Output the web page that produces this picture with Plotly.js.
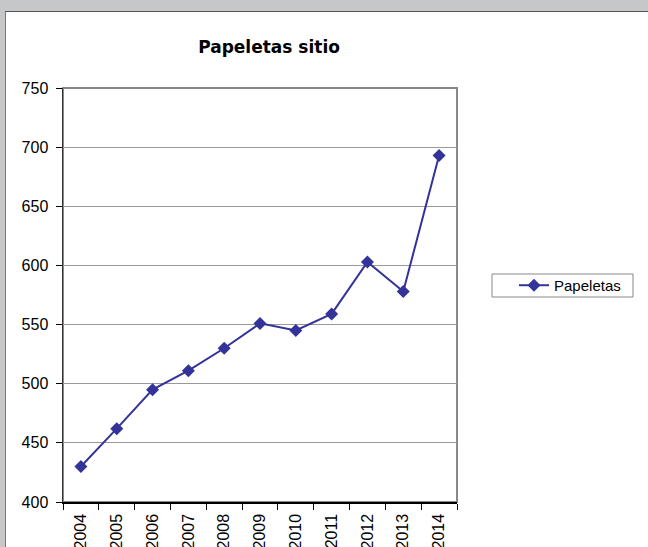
<!DOCTYPE html>
<html>
<head>
<meta charset="utf-8">
<script src="https://cdn.plot.ly/plotly-3.0.1.min.js"></script>
<style>
  html, body { margin: 0; padding: 0; background: #c6c7c9; width: 648px; height: 547px; overflow: hidden; }
  #frame { position: absolute; left: 5px; top: 11px; width: 643px; height: 536px; background: #fff;
           border-top: 1px solid #555; border-left: 1px solid #777; }
  #chart { width: 642px; height: 535px; }
</style>
</head>
<body>
<div id="frame"><div id="chart"></div></div>
<script>
const years = ['2004','2005','2006','2007','2008','2009','2010','2011','2012','2013','2014'];
const papeletas = [430, 462, 495, 511, 530, 551, 545, 559, 603, 578, 693];
const seriesName = 'Papeletas';
const chartTitle = 'Papeletas sitio';

const font = 'Liberation Sans, Arial, sans-serif';

const trace = {
  x: years,
  y: papeletas,
  type: 'scatter',
  mode: 'lines+markers',
  name: seriesName,
  line: { color: '#333399', width: 2 },
  marker: { symbol: 'diamond', size: 10, color: '#333399' },
  showlegend: true
};

const layout = {
  width: 642,
  height: 535,
  margin: { l: 57, r: 191, t: 76, b: 45 },
  paper_bgcolor: '#ffffff',
  plot_bgcolor: '#ffffff',
  font: { family: font, color: '#000', size: 16 },
  title: {
    text: '<b>' + chartTitle + '</b>',
    font: { family: 'DejaVu Sans, sans-serif', size: 17, color: '#000' },
    x: 0.523, xref: 'paper', xanchor: 'center',
    y: 1 - 35/535, yref: 'container', yanchor: 'middle'
  },
  xaxis: {
    type: 'category',
    range: [-0.5, 10.5],
    tickson: 'boundaries',
    ticks: 'outside',
    ticklen: 6,
    tickcolor: '#000',
    tickangle: -90,
    ticklabelstandoff: 4,
    showline: true,
    linecolor: '#000',
    linewidth: 1.5,
    showgrid: false,
    tickfont: { family: font, size: 16, color: '#000' },
    fixedrange: true
  },
  yaxis: {
    range: [400, 750],
    dtick: 50,
    ticks: 'outside',
    ticklen: 6,
    tickcolor: '#000',
    ticklabelstandoff: 4,
    showline: true,
    linecolor: '#333',
    linewidth: 1.5,
    showgrid: true,
    gridcolor: '#999',
    gridwidth: 1,
    zeroline: false,
    tickfont: { family: font, size: 16, color: '#000' },
    fixedrange: true
  },
  shapes: [
    { type: 'rect', xref: 'paper', yref: 'paper', x0: 0, x1: 1, y0: 0, y1: 1,
      line: { color: '#888', width: 2 }, layer: 'below' },
    { type: 'rect', xref: 'paper', yref: 'paper', x0: 1.0888, x1: 1.4467, y0: 0.4952, y1: 0.5507,
      line: { color: '#888', width: 1 }, layer: 'below' }
  ],
  legend: {
    x: 1.1447, xanchor: 'left',
    y: 0.523, yanchor: 'middle',
    borderwidth: 0,
    bgcolor: 'rgba(0,0,0,0)',
    font: { family: font, size: 15, color: '#000' }
  }
};

Plotly.newPlot('chart', [trace], layout, { displayModeBar: false, staticPlot: true });
</script>
</body>
</html>
